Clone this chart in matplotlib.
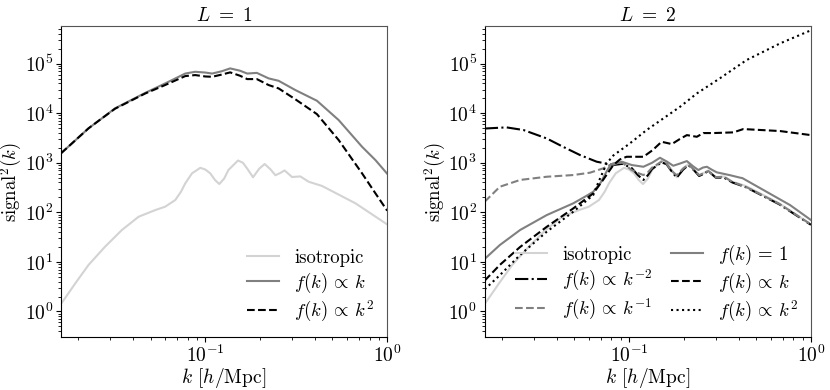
import matplotlib
matplotlib.use("Agg")
import matplotlib.pyplot as plt
from matplotlib.ticker import NullFormatter

plt.rcParams["font.family"] = "serif"
plt.rcParams["font.serif"] = ["cmr10"]
plt.rcParams["mathtext.fontset"] = "cm"
plt.rcParams["axes.formatter.use_mathtext"] = True
plt.rcParams["font.size"] = 14

# isotropic signal (same in both panels)
k_iso = [0.0161, 0.0175, 0.0193, 0.0228, 0.0281, 0.0348, 0.0430, 0.0531, 0.0602, 0.0684,
         0.0735, 0.0776, 0.0845, 0.0939, 0.1, 0.1065, 0.113, 0.1194, 0.127, 0.134,
         0.1513, 0.161, 0.1696, 0.183, 0.198, 0.212, 0.228, 0.2428, 0.258, 0.2728,
         0.30, 0.333, 0.37, 0.4385, 0.669, 1.0]
s_iso = [1.42, 2.2, 3.7, 8.66, 20.2, 44, 81.5, 111, 130, 177,
         260, 384, 611, 790, 730, 611, 450, 372, 480, 713,
         1110, 1000, 771, 510, 760, 942, 740, 560, 620, 700,
         515, 530, 414, 340, 152, 57]

# L = 1
k_l1 = [0.0161, 0.0185, 0.0228, 0.027, 0.0319, 0.0468, 0.0602, 0.0776, 0.088, 0.1,
        0.109, 0.123, 0.137, 0.155, 0.170, 0.192, 0.223, 0.253, 0.313, 0.411,
        0.541, 0.7275, 0.862, 1.0]
s_l1_k = [1550, 2460, 4940, 7850, 12500, 25700, 39800, 63000, 68400, 66000,
          63000, 70000, 80000, 72000, 63000, 65000, 50300, 45000, 29200, 17800,
          7260, 2100, 1130, 600]
s_l1_k2 = [1550, 2460, 4940, 7850, 12300, 25000, 37000, 56000, 58700, 55000,
           54200, 60000, 66500, 57000, 48700, 48700, 36900, 31600, 19000, 9560,
           2870, 611, 241, 108]

# L = 2
k_m2 = [0.0161, 0.0212, 0.0263, 0.0353, 0.0435, 0.0538, 0.0664, 0.082, 0.092,
        0.1035, 0.112, 0.12, 0.127, 0.134, 0.151, 0.161, 0.17, 0.183, 0.198, 0.212,
        0.228, 0.243, 0.258, 0.273, 0.30, 0.333, 0.37, 0.44, 0.67, 1.0]
s_m2 = [4900, 5170, 4570, 3090, 2090, 1430, 1050, 900, 950,
        780, 560, 450, 560, 750, 1020, 930, 700, 500, 720, 900,
        700, 540, 600, 680, 500, 500, 400, 320, 145, 56]

k_m1 = [0.0161, 0.0195, 0.0252, 0.0353, 0.0494, 0.061, 0.0722, 0.082, 0.092,
        0.1035, 0.112, 0.12, 0.127, 0.134, 0.151, 0.161, 0.17, 0.183, 0.198, 0.212,
        0.228, 0.243, 0.258, 0.273, 0.30, 0.333, 0.37, 0.44, 0.67, 1.0]
s_m1 = [164, 328, 450, 522, 565, 630, 771, 973, 1000,
        713, 620, 565, 640, 800, 1050, 960, 700, 560, 760, 920,
        720, 560, 620, 680, 510, 520, 410, 325, 148, 57]

k_one = [0.0161, 0.0195, 0.0252, 0.0353, 0.0494, 0.059, 0.0636, 0.07, 0.075, 0.0786,
         0.0912, 0.1035, 0.12, 0.134, 0.148, 0.162, 0.175, 0.19, 0.208, 0.225,
         0.2405, 0.255, 0.268, 0.286, 0.304, 0.36, 0.408, 0.42, 0.549, 0.768, 1.0]
s_one = [11.5, 21.9, 44, 88, 152, 220, 260, 400, 650, 870,
         1050, 900, 830, 1000, 1260, 1050, 870, 960, 1080, 850,
         713, 800, 830, 720, 640, 560, 500, 490, 281, 140, 70]

k_p1 = [0.0161, 0.0195, 0.0252, 0.0353, 0.0494, 0.0636, 0.072, 0.082, 0.0893, 0.097,
        0.12, 0.135, 0.151, 0.172, 0.19, 0.208, 0.236, 0.256, 0.291, 0.375,
        0.425, 0.676, 1.0]
s_p1 = [4.2, 8.7, 20, 51, 120, 241, 450, 900, 1170, 1320,
        1320, 1800, 2650, 2380, 3000, 3610, 3340, 3970, 3970, 4100,
        4780, 4360, 3610]

k_p2 = [0.0161, 0.0195, 0.0252, 0.0353, 0.0494, 0.0636, 0.0678, 0.0754, 0.082, 0.101,
        0.125, 0.1545, 0.191, 0.236, 0.316, 0.443, 0.676, 1.0]
s_p2 = [2.8, 5.4, 13.8, 40.6, 103, 224, 400, 973, 1400, 2450,
        4570, 7850, 13500, 25000, 50500, 118000, 255000, 470000]

c_light = "#d3d3d3"
c_grey = "#808080"
c_black = "#000000"

fig = plt.figure(figsize=(8.3, 3.9), dpi=100)
ax1 = fig.add_axes([0.0735, 0.136, 0.393, 0.797])
ax2 = fig.add_axes([0.584, 0.136, 0.393, 0.797])

ax1.plot(k_iso, s_iso, color=c_light, lw=1.5, label="isotropic")
ax1.plot(k_l1, s_l1_k, color=c_grey, lw=1.5, label=r"$f(k)\,\propto\,k$")
ax1.plot(k_l1, s_l1_k2, color=c_black, lw=1.5, ls="--", label=r"$f(k)\,\propto\,k^2$")
ax1.set_title(r"$L\ =\ 1$", fontsize=14, pad=4)

ax2.plot(k_iso, s_iso, color=c_light, lw=1.5, label="isotropic")
ax2.plot(k_m2, s_m2, color=c_black, lw=1.5, ls="-.", label=r"$f(k)\,\propto\,k^{-2}$")
ax2.plot(k_m1, s_m1, color=c_grey, lw=1.5, ls="--", label=r"$f(k)\,\propto\,k^{-1}$")
ax2.plot(k_one, s_one, color=c_grey, lw=1.5, label=r"$f(k)\,=\,1$")
ax2.plot(k_p1, s_p1, color=c_black, lw=1.5, ls="--", label=r"$f(k)\,\propto\,k$")
ax2.plot(k_p2, s_p2, color=c_black, lw=1.5, ls=":", label=r"$f(k)\,\propto\,k^2$")
ax2.set_title(r"$L\ =\ 2$", fontsize=14, pad=4)

for ax in (ax1, ax2):
    ax.set_xscale("log")
    ax.set_yscale("log")
    ax.set_xticks([0.1, 1.0])
    ax.set_xlim(0.0161, 1.0)
    ax.set_ylim(0.306, 5.7e5)
    ax.xaxis.set_minor_formatter(NullFormatter())
    ax.set_xlabel(r"$k$ [$h$/Mpc]", fontsize=14)
    ax.set_ylabel(r"$\mathrm{signal}^2(k)$", fontsize=13.5)
    ax.xaxis.set_label_coords(0.5, -0.093)
    ax.yaxis.set_label_coords(-0.112, 0.5)
    ax.tick_params(which="both", top=False, right=False, direction="out", labelsize=14, pad=2)
    for side in ("top", "right"):
        ax.spines[side].set_color("#555555")

ax1.legend(loc="lower right", frameon=False, fontsize=13.5, labelspacing=0.2,
           borderaxespad=0.3, handlelength=1.7)
ax2.legend(loc="lower right", frameon=False, fontsize=13.5, ncol=2, labelspacing=0.2,
           borderaxespad=0.3, columnspacing=1.0, handlelength=1.7)

fig.savefig("out.png", dpi=100)
